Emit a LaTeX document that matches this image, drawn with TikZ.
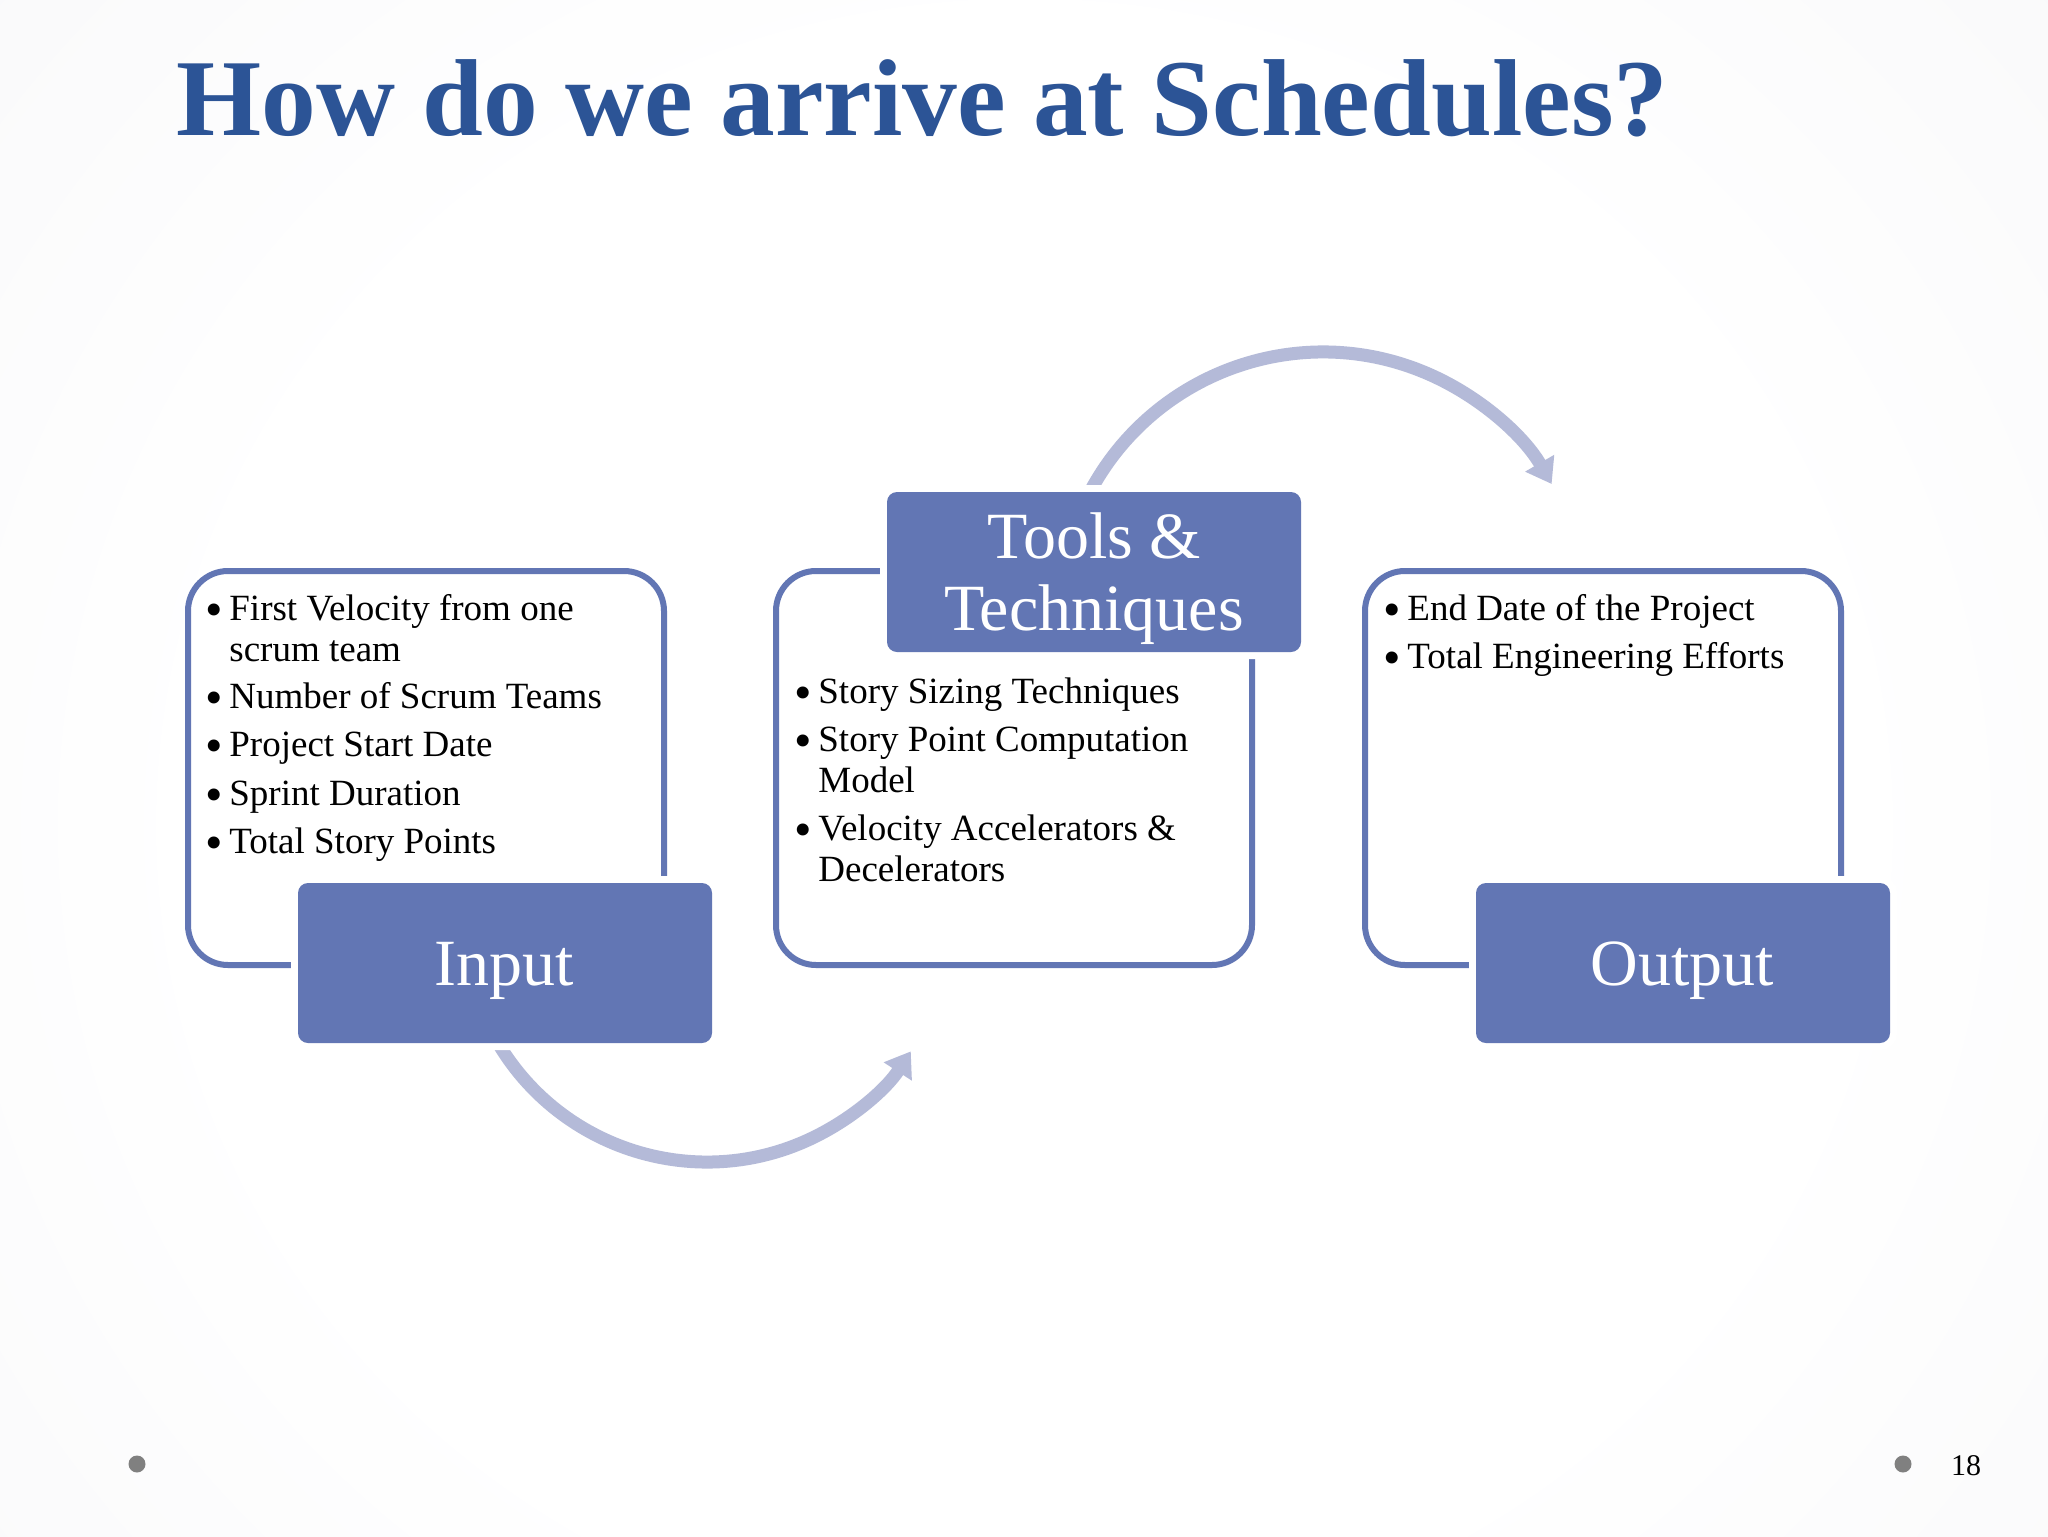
\documentclass[tikz,border=0pt]{standalone}
\usepackage{fontspec}
\usepackage{graphicx}
\setmainfont{Liberation Serif}
\usetikzlibrary{arrows.meta,calc}
\definecolor{boxblue}{RGB}{98,118,180}
\definecolor{arrowc}{RGB}{180,186,216}
\definecolor{titleblue}{RGB}{44,84,150}
\definecolor{dotgray}{RGB}{128,128,128}
\definecolor{bgone}{RGB}{250,250,251}
\definecolor{bgtwo}{RGB}{244,244,246}
\definecolor{bgmid}{RGB}{235,235,238}
\definecolor{bgedge}{RGB}{222,222,226}
\definecolor{bgcorner}{RGB}{213,213,217}
\pgfdeclareradialshading{slidebg}{\pgfpoint{0bp}{0bp}}{color(0bp)=(white); color(20bp)=(white); color(32bp)=(bgone); color(40bp)=(bgtwo); color(50bp)=(bgmid); color(60bp)=(bgedge); color(70bp)=(bgcorner)}
\newcommand\itembul{\makebox[11.5pt][l]{\hspace{-0.5pt}\raisebox{-3pt}{\scalebox{1.35}{•}}}}
\tikzset{
  contentbox/.style={draw=boxblue, line width=3pt, fill=white, rounded corners=20pt,
    inner sep=0pt, minimum width=238pt, minimum height=197pt},
  labelbox/.style={fill=boxblue, rounded corners=5pt, inner sep=0pt,
    minimum width=207pt, minimum height=80pt, preaction={draw=white, line width=7pt}},
  itemtext/.style={anchor=base west, inner sep=0pt, font=\fontsize{18.5}{22}\selectfont},
  boxlabel/.style={anchor=base, inner sep=0pt, text=white, font=\fontsize{33}{40}\selectfont},
  flowarc/.style={draw=arrowc, line width=6.5pt, -{Triangle[length=12pt,width=16pt]}}
}
\begin{document}
\begin{tikzpicture}[x=0.5pt,y=-0.5pt]
\useasboundingbox (0,0) rectangle (2048,1536);
\begin{scope}
\clip (0,0) rectangle (2048,1536);
\shade[shading=slidebg] (0,-150) rectangle (2048,1800);
\end{scope}

% arc centres and ends
\coordinate (bc) at (707,919);
\coordinate (tc) at (1323,616);
\coordinate (bs) at ($(bc)+(155:243)$);
\coordinate (ts) at ($(tc)+(205:264)$);
\draw[flowarc] (bs) arc[start angle=155, end angle=33, radius=243];
\draw[flowarc] (ts) arc[start angle=205, end angle=330, radius=264];

% content boxes
\node[contentbox] (incontent) at (426,768) {};
\node[contentbox] (toolcontent) at (1014,768) {};
\node[contentbox] (outcontent) at (1603,768) {};

% input items
\node[itemtext] (i1a) at (206,620) {\itembul First Velocity from one};
\node[itemtext] (i1b) at (229,661) {scrum team};
\node[itemtext] (i2) at (206,708) {\itembul Number of Scrum Teams};
\node[itemtext] (i3) at (206,756) {\itembul Project Start Date};
\node[itemtext] (i4) at (206,805) {\itembul Sprint Duration};
\node[itemtext] (i5) at (206,853) {\itembul Total Story Points};

% tools items
\node[itemtext] (t1) at (795,703) {\itembul Story Sizing Techniques};
\node[itemtext] (t2a) at (795,751) {\itembul Story Point Computation};
\node[itemtext] (t2b) at (818,792) {Model};
\node[itemtext] (t3a) at (795,840) {\itembul Velocity Accelerators \&};
\node[itemtext] (t3b) at (818,881) {Decelerators};

% output items
\node[itemtext] (o1) at (1384,620) {\itembul End Date of the Project};
\node[itemtext] (o2) at (1384,668) {\itembul Total Engineering Efforts};

% label boxes
\node[labelbox] (inbox) at (505,963) {};
\node[labelbox] (toolbox) at (1094,572) {};
\node[labelbox] (outbox) at (1683,963) {};
\node[boxlabel] (inlabel) at (504,985) {Input};
\node[boxlabel] (toollabela) at (1094,558) {Tools \&};
\node[boxlabel] (toollabelb) at (1094,630) {Techniques};
\node[boxlabel] (outlabel) at (1682,985) {Output};

% title
\node[anchor=base west, inner sep=0pt, text=titleblue,
  font=\fontsize{54.7}{62}\selectfont\bfseries] (title) at (176,135) {How do we arrive at Schedules?};

% footer
\node[circle, fill=dotgray, inner sep=0pt, minimum size=8.5pt] (dotl) at (137,1464) {};
\node[circle, fill=dotgray, inner sep=0pt, minimum size=8.5pt] (dotr) at (1903,1464) {};
\node[anchor=base, inner sep=0pt, font=\fontsize{15}{18}\selectfont] (pagenum) at (1966,1475) {18};
\end{tikzpicture}
\end{document}
